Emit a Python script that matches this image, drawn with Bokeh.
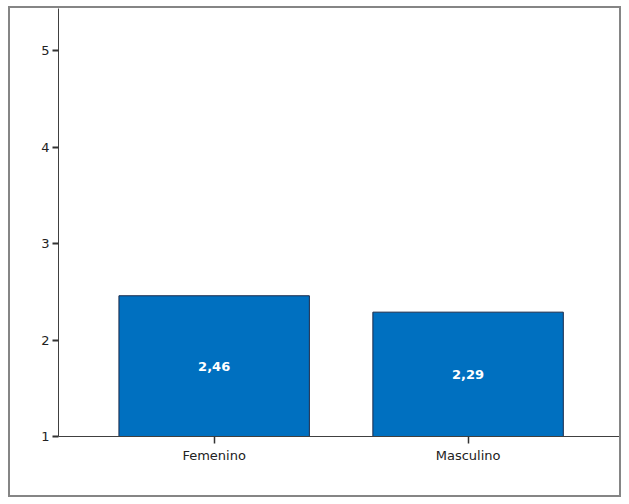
from bokeh.plotting import figure
from bokeh.models import ColumnDataSource, Range1d, FixedTicker
from bokeh.core.properties import value
from bokeh.embed import file_html
from bokeh.resources import INLINE

categories = ["Femenino", "Masculino"]
means = [2.46, 2.29]
y_ticks = [1, 2, 3, 4, 5]

base = 1
positions = list(range(1, len(categories) + 1))
labels = [f"{v:.2f}".replace(".", ",") for v in means]
mid = [(base + v) / 2 for v in means]
src = ColumnDataSource(dict(x=positions, top=means, bottom=[base] * len(means), lab=labels, mid=mid))

p = figure(width=613, height=491, output_backend="svg", toolbar_location=None,
           x_range=Range1d(0.387, 2.612), y_range=Range1d(1, 5.44))
p.margin = (6, 0, 0, 8)
p.styles = {"border": "2px solid #858585", "box-sizing": "border-box"}
p.min_border_left = 48
p.min_border_right = 0
p.min_border_top = 0
p.min_border_bottom = 63
p.outline_line_color = None
p.background_fill_color = "white"
p.border_fill_color = "white"
p.grid.grid_line_color = None

p.vbar(x="x", top="top", bottom="bottom", width=0.75, source=src,
       fill_color="#0070C0", line_color="#1a2a4a", line_width=1)
p.text(x="x", y="mid", text="lab", source=src, text_color="white",
       text_font=value("DejaVu Sans"), text_font_style="bold", text_font_size="13px",
       text_align="center", text_baseline="middle")

font = "DejaVu Sans"
p.yaxis.ticker = FixedTicker(ticks=y_ticks)
p.xaxis.ticker = FixedTicker(ticks=positions)
p.xaxis.major_label_overrides = {pos: c for pos, c in zip(positions, categories)}
for ax in [p.xaxis[0], p.yaxis[0]]:
    ax.axis_line_color = "#404040"
    ax.axis_line_width = 1
    ax.major_tick_line_color = "#333333"
    ax.major_tick_line_width = 2
    ax.minor_tick_line_color = None
    ax.major_label_text_font = font
    ax.major_label_text_font_size = "13px"
    ax.major_label_text_color = "#222222"
p.yaxis.major_tick_out = 6
p.yaxis.major_tick_in = 0
p.yaxis.major_label_standoff = 3
p.xaxis.major_tick_out = 7
p.xaxis.major_tick_in = 0
p.xaxis.major_label_standoff = 4
p.xaxis.major_tick_line_width = 1.5

open("out.html", "w").write(file_html(p, INLINE))
